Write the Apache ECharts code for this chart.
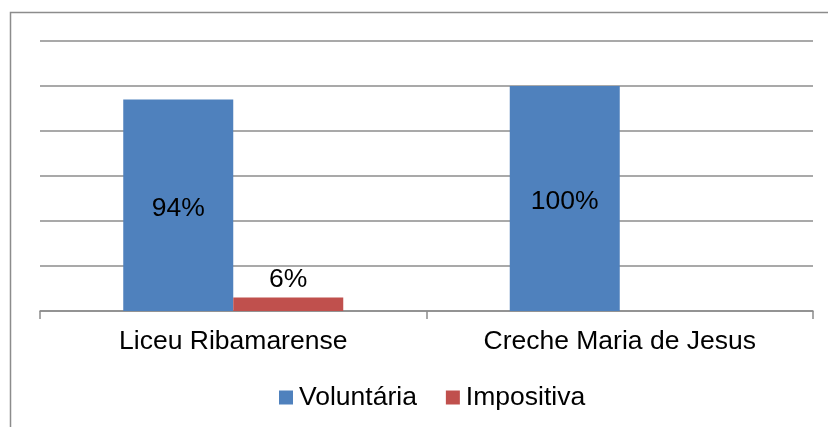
<!DOCTYPE html>
<html>
<head>
<meta charset="utf-8">
<script src="https://cdn.jsdelivr.net/npm/echarts@6/dist/echarts.min.js"></script>
<style>
html,body{margin:0;padding:0;background:#fff;}
#c{width:828px;height:427px;}
</style>
</head>
<body>
<div id="c"></div>
<script>
var categories = ['Liceu Ribamarense', 'Creche Maria de Jesus'];
var seriesNames = ['Voluntária', 'Impositiva'];
var voluntaria = [94, 100];
var impositiva = [6, 0];
var yTicks = [0, 20, 40, 60, 80, 100, 120];

var chart = echarts.init(document.getElementById('c'), null, {renderer: 'canvas'});
var FONT = 'Liberation Sans, Arial, sans-serif';
var FS = 26.5;
function lbl(p){ return p.value > 0 ? p.value + '%' : ''; }
chart.setOption({
  animation: false,
  backgroundColor: '#fff',
  graphic: [{
    type: 'polyline',
    shape: {points: [[10.5, 427], [10.5, 12.5], [828, 12.5]]},
    style: {stroke: '#8c8c8c', lineWidth: 1.5, fill: null}
  }],
  grid: {left: 40, right: 15, top: 41, bottom: 116, containLabel: false},
  legend: {
    data: seriesNames,
    top: 379,
    left: 274,
    icon: 'rect',
    itemWidth: 14,
    itemHeight: 14,
    itemGap: 29,
    textStyle: {fontFamily: FONT, fontSize: FS, color: '#000', padding: [0, 0, 0, 1]}
  },
  xAxis: {
    type: 'category',
    data: categories,
    axisLine: {lineStyle: {color: '#8c8c8c', width: 1.5}},
    axisTick: {show: true, length: 8, lineStyle: {color: '#8c8c8c', width: 1.5}},
    axisLabel: {fontFamily: FONT, fontSize: FS, color: '#000', margin: 17}
  },
  yAxis: {
    type: 'value',
    min: yTicks[0],
    max: yTicks[yTicks.length - 1],
    interval: 20,
    axisLine: {show: false},
    axisTick: {show: false},
    axisLabel: {show: false},
    splitLine: {lineStyle: {color: '#8c8c8c', width: 1.5}}
  },
  series: [{
    name: seriesNames[0],
    type: 'bar',
    data: voluntaria,
    barWidth: 110,
    barGap: '0%',
    itemStyle: {color: '#4F81BD'},
    label: {show: true, position: 'inside', offset: [0, 3], formatter: lbl, fontFamily: FONT, fontSize: FS, color: '#000'}
  }, {
    name: seriesNames[1],
    type: 'bar',
    data: impositiva,
    barWidth: 110,
    barGap: '0%',
    itemStyle: {color: '#C0504D'},
    label: {show: true, position: 'top', distance: 4, formatter: lbl, fontFamily: FONT, fontSize: FS, color: '#000'}
  }]
});
</script>
</body>
</html>
